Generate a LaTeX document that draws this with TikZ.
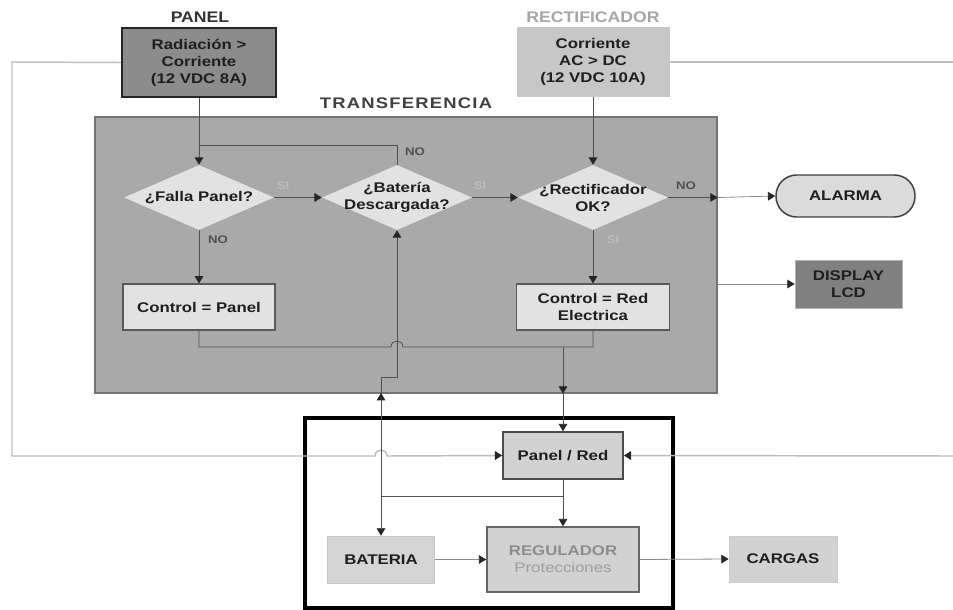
\documentclass[tikz,border=0pt]{standalone}
\usepackage{fontspec}
\setmainfont{Liberation Sans}[FakeStretch=1.2]
\newfontfamily\ttlA{Liberation Sans}[FakeStretch=1.15]
\newfontfamily\ttlB{Liberation Sans}[FakeStretch=1.2,LetterSpace=8]
\usetikzlibrary{shapes.geometric,arrows.meta}
\newcommand\pxl{0.75pt}
\definecolor{ln}{HTML}{505050}
\definecolor{gln}{HTML}{BDBDBD}
\definecolor{txt}{HTML}{1E1E1E}
\definecolor{transfill}{HTML}{A9A9A9}
\definecolor{lightfill}{HTML}{E2E2E2}
\definecolor{midfill}{HTML}{D2D2D2}
\begin{document}
\begin{tikzpicture}[x=0.75pt,y=-0.75pt,
  blk/.style={rectangle, inner sep=0pt, align=center, text=txt,
    font=\bfseries\fontsize{10.5}{12.75}\selectfont},
  dia/.style={diamond, inner sep=0pt, fill=lightfill, draw=none,
    minimum width=150*\pxl, minimum height=65*\pxl},
  dtxt/.style={align=center, inner sep=0pt, text=txt,
    font=\bfseries\fontsize{10.5}{12.75}\selectfont},
  ttl/.style={inner sep=0pt, font=\bfseries\fontsize{11.5}{13}\selectfont},
  yes/.style={inner sep=0pt, text=gln, font=\bfseries\fontsize{8.25}{10}\selectfont},
  nolbl/.style={inner sep=0pt, text=ln, font=\bfseries\fontsize{8.25}{10}\selectfont},
  conn/.style={draw=ln, line width=0.6pt},
  arr/.style={conn, -{Triangle[length=5.5pt,width=6.5pt,color=black!85]}},
  glin/.style={draw=gln, line width=1.1pt},
  garr/.style={glin, -{Triangle[length=5.5pt,width=6.5pt,color=black!85]}},
  oarr/.style={draw=black!45, line width=0.6pt, -{Triangle[length=5.5pt,width=6.5pt,color=black!85]}}
]
\useasboundingbox[fill=white] (0,0) rectangle (953,610);

% big panels
\node[draw=black!55, fill=transfill, line width=1pt, minimum width=622*\pxl, minimum height=276*\pxl, inner sep=0pt] (trans) at (406,255) {};
\node[draw=black, line width=2.3pt, minimum width=368*\pxl, minimum height=190*\pxl, inner sep=0pt] (frame) at (489,513) {};

% titles
\node[ttl, text=black!80] (tpanel) at (200,17) {\ttlA PANEL};
\node[ttl, text=black!35] (trect) at (593,17) {\ttlA RECTIFICADOR};
\node[ttl, text=black!75] (ttrans) at (406,103) {\ttlB TRANSFERENCIA};

% source boxes
\node[blk, fill=black!45, draw=black!85, line width=1.8pt, minimum width=154*\pxl, minimum height=69*\pxl] (panel) at (199,62.5) {Radiación >\\Corriente\\(12 VDC 8A)};
\node[blk, fill=black!22, minimum width=153*\pxl, minimum height=70*\pxl] (rect) at (593,62) {Corriente\\AC > DC\\(12 VDC 10A)};

% decisions
\node[dia] (d1) at (199,197.5) {};
\node[dia] (d2) at (397,197.5) {};
\node[dia] (d3) at (593,197.5) {};
\node[dtxt] (t1) at (d1.center) {¿Falla Panel?};
\node[dtxt] (t2) at (d2.center) {¿Batería\\Descargada?};
\node[dtxt] (t3) at (d3.center) {¿Rectificador\\OK?};

% control boxes
\node[blk, fill=lightfill, draw=black!65, line width=0.9pt, minimum width=152*\pxl, minimum height=46*\pxl] (cp) at (199,307) {Control = Panel};
\node[blk, fill=lightfill, draw=black!65, line width=0.9pt, minimum width=153*\pxl, minimum height=46*\pxl] (cr) at (593,307) {Control = Red\\Electrica};

% outputs
\node[blk, fill=black!14, draw=black!75, line width=1.1pt, rounded corners=15.5pt, minimum width=139*\pxl, minimum height=42*\pxl] (alarm) at (845.5,196) {ALARMA};
\node[blk, fill=black!50, draw=black!30, line width=0.5pt, minimum width=107*\pxl, minimum height=48*\pxl] (lcd) at (848.5,284) {DISPLAY\\LCD};

% lower blocks
\node[blk, fill=midfill, draw=black!70, line width=1.2pt, minimum width=120*\pxl, minimum height=47*\pxl] (pr) at (563,455.5) {Panel / Red};
\node[blk, fill=black!17, draw=black!22, line width=0.6pt, minimum width=107*\pxl, minimum height=47*\pxl] (bat) at (381,559.5) {BATERIA};
\node[blk, fill=midfill, draw=black!60, line width=1.2pt, minimum width=152*\pxl, minimum height=65*\pxl] (reg) at (563,559.5) {\textcolor{black!45}{REGULADOR}\\\textcolor{black!38}{\mdseries Protecciones}};
\node[blk, fill=midfill, draw=black!20, line width=0.6pt, minimum width=108*\pxl, minimum height=46*\pxl] (carg) at (783,559) {CARGAS};

% coordinates
\coordinate (fb) at (199,145);
\coordinate (tr) at (trans.east |- d3.east);
\coordinate (tl) at (trans.east |- lcd.west);
\coordinate (hl) at (199,347);
\coordinate (hr) at (593,347);
\coordinate (jv) at (563,347);
\coordinate (bj) at (381,496);
\coordinate (bt) at (381,393);
\coordinate (bk) at (381,377);
\coordinate (bk2) at (397,377);
\coordinate (gl1) at (12,62);
\coordinate (gl2) at (12,456);
\coordinate (gr1) at (953,62);
\coordinate (gr2) at (953,456);

% outer gray lines
\draw[garr] (panel.west) -- (gl1) -- (gl2) -- (375,456) .. controls (375,448) and (387,448) .. (387,456) -- (pr.west);
\draw[glin] (rect.east) -- (gr1);
\draw[garr] (gr2) -- (pr.east);

% flow connectors
\draw[arr] (panel.south) -- (d1.north);
\draw[arr] (rect.south) -- (d3.north);
\draw[conn] (d2.north) |- (fb);
\draw[arr] (d1.east) -- (d2.west);
\draw[arr] (d2.east) -- (d3.west);
\draw[arr] (d1.south) -- (cp.north);
\draw[arr] (d3.south) -- (cr.north);
\draw[arr] (d3.east) -- (tr);
\draw[oarr] (tr) -- (alarm.west);
\draw[oarr] (tl) -- (lcd.west);

\draw[conn] (cp.south) -- (hl) -- (391,347) .. controls (391,339) and (403,339) .. (403,347) -- (hr) -- (cr.south);
\draw[arr] (jv) -- (jv |- trans.south);
\draw[arr] (jv |- trans.south) -- (pr.north);

\draw[arr] (bj) -- (bt);
\draw[arr] (bt) -- (bk) -- (bk2) -- (d2.south);
\draw[arr] (bj) -- (bat.north);
\draw[conn] (bj) -- (bj -| pr.south);
\draw[arr] (pr.south) -- (reg.north);
\draw[oarr] (bat.east) -- (reg.west);
\draw[oarr] (reg.east) -- (carg.west);

% labels
\node[nolbl] (lno1) at (415,152) {NO};
\node[yes] (lsi1) at (283,186) {SI};
\node[yes] (lsi2) at (480,186) {SI};
\node[nolbl] (lno2) at (218,240) {NO};
\node[yes] (lsi3) at (613,240) {SI};
\node[nolbl] (lno3) at (686,186) {NO};
\end{tikzpicture}
\end{document}
